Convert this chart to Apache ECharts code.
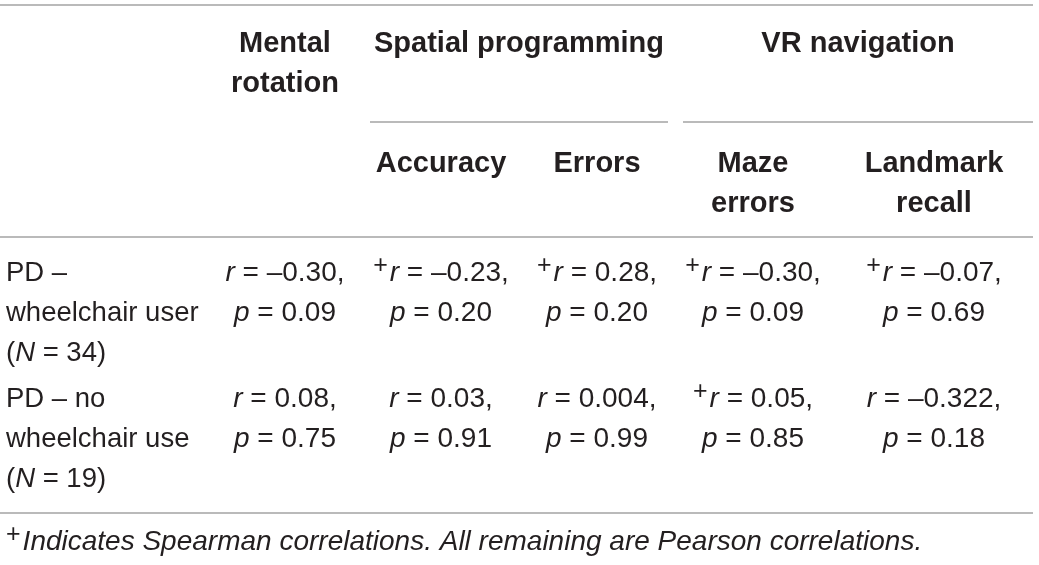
<!DOCTYPE html>
<html>
<head>
<meta charset="utf-8">
<script src="https://cdn.jsdelivr.net/npm/echarts@6/dist/echarts.min.js"></script>
<style>
  html, body { margin: 0; padding: 0; background: #fff; }
  #chart { width: 1039px; height: 565px; }
</style>
</head>
<body>
<div id="chart"></div>
<script>
// table content
const groupHeaders = ['Mental\nrotation', 'Spatial programming', 'VR navigation'];
const measures = ['Accuracy', 'Errors', 'Maze\nerrors', 'Landmark\nrecall'];
const rowGroups = ['PD –\nwheelchair user\n(N = 34)', 'PD – no\nwheelchair use\n(N = 19)'];
const rValues = [
  ['–0.30', '–0.23', '0.28', '–0.30', '–0.07'],
  ['0.08', '0.03', '0.004', '0.05', '–0.322']
];
const pValues = [
  ['0.09', '0.20', '0.20', '0.09', '0.69'],
  ['0.75', '0.91', '0.99', '0.85', '0.18']
];
// 1 = Spearman correlation (marked with +)
const spearman = [
  [0, 1, 1, 1, 1],
  [0, 0, 0, 1, 0]
];
const footnote = 'Indicates Spearman correlations. All remaining are Pearson correlations.';

// layout, in axis units (the axes span the page)
const colX = [285, 441, 597, 753, 934];
const groupX = [285, 519, 858];
const labelX = 6;
const headY = 64, groupY = 44, measureY = [164, 164, 184, 184];
const rowY = [313, 439];
const cellY = [293, 419];
const rules = [
  [0, 1033, 5], [370, 668, 122], [683, 1033, 122], [0, 1033, 237], [0, 1033, 513]
];
const footY = 542;

const FONT = '"Liberation Sans", Arial, Helvetica, sans-serif';
const INK = '#231f20';
const BODY = 27.5;

function makeRich(size) {
  return {
    it: { fontStyle: 'italic', fontSize: size, fontFamily: FONT, fill: INK },
    sup: { fontSize: 25, fontFamily: FONT, fill: INK, verticalAlign: 'middle', padding: [0, 2, 14, 0] }
  };
}

function textEl(api, x, y, text, opts) {
  const p = api.coord([x, y]);
  const size = (opts && opts.fontSize) || BODY;
  return {
    type: 'text',
    style: Object.assign({
      text: text, x: p[0], y: p[1],
      fill: INK, fontFamily: FONT, fontSize: size, lineHeight: 40,
      align: 'center', verticalAlign: 'middle', rich: makeRich(size)
    }, opts || {})
  };
}

const cellData = [];
rValues.forEach((row, i) => row.forEach((v, j) => cellData.push([i, j])));

const chart = echarts.init(document.getElementById('chart'), null, { renderer: 'canvas' });
chart.setOption({
  animation: false,
  grid: { left: 0, right: 0, top: 0, bottom: 0 },
  xAxis: { type: 'value', min: 0, max: 1039, show: false },
  yAxis: { type: 'value', min: 0, max: 565, inverse: true, show: false },
  series: [
    {
      type: 'custom',
      name: 'rules',
      data: rules.map((r, i) => [i]),
      renderItem: (params, api) => {
        const r = rules[params.dataIndex];
        const a = api.coord([r[0], r[2]]), b = api.coord([r[1], r[2]]);
        return {
          type: 'line',
          shape: { x1: a[0], y1: a[1], x2: b[0], y2: b[1] },
          style: { stroke: '#a3a3a3', lineWidth: 1.5 }
        };
      }
    },
    {
      type: 'custom',
      name: 'groups',
      data: groupHeaders.map((g, i) => [i]),
      renderItem: (params, api) => {
        const i = params.dataIndex;
        return textEl(api, groupX[i], i === 0 ? headY : groupY, groupHeaders[i],
          { fontWeight: 'bold', fontSize: 29 });
      }
    },
    {
      type: 'custom',
      name: 'measures',
      data: measures.map((m, i) => [i]),
      renderItem: (params, api) => {
        const i = params.dataIndex;
        return textEl(api, colX[i + 1], measureY[i], measures[i],
          { fontWeight: 'bold', fontSize: 29 });
      }
    },
    {
      type: 'custom',
      name: 'rows',
      data: rowGroups.map((r, i) => [i]),
      renderItem: (params, api) => {
        const i = params.dataIndex;
        const t = rowGroups[i].replace('(N ', '({it|N} ');
        return textEl(api, labelX, rowY[i], t, { align: 'left' });
      }
    },
    {
      type: 'custom',
      name: 'cells',
      data: cellData,
      renderItem: (params, api) => {
        const [i, j] = cellData[params.dataIndex];
        const t = (spearman[i][j] ? '{sup|+}' : '') + '{it|r} = ' + rValues[i][j] +
          ',\n{it|p} = ' + pValues[i][j];
        return textEl(api, colX[j], cellY[i], t, { fontSize: 28 });
      }
    },
    {
      type: 'custom',
      name: 'footnote',
      data: [[0]],
      renderItem: (params, api) => {
        return textEl(api, labelX, footY, '{sup|+}{it|' + footnote + '}',
          { align: 'left', fontSize: 28 });
      }
    }
  ]
});
</script>
</body>
</html>
